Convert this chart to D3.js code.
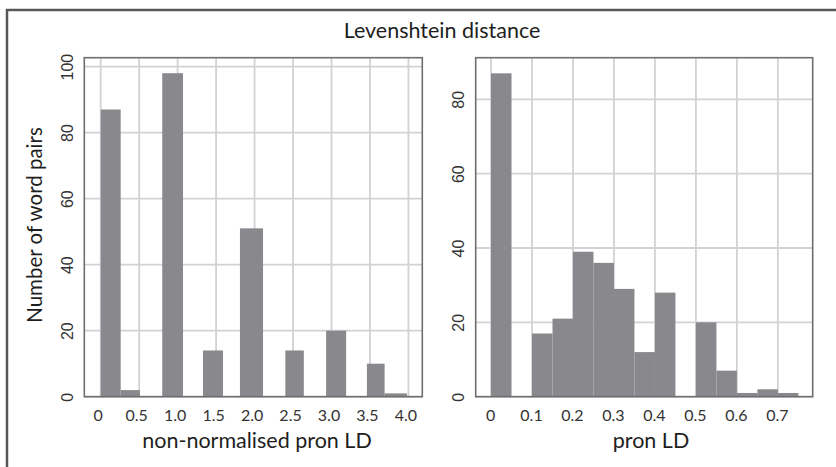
<!DOCTYPE html>
<html>
<head>
<meta charset="utf-8">
<script src="https://cdn.jsdelivr.net/npm/d3@7"></script>
<style>
  body { margin: 0; background: #fff; }
  svg { display: block; }
</style>
</head>
<body>
<svg id="chart" width="836" height="467"></svg>
<script>
// left panel: bins (start, end in LD units) and counts
let leftStart = [0, 0.26, 0.80, 1.33, 1.81, 2.40, 2.93, 3.46, 3.69];
let leftEnd = [0.26, 0.51, 1.07, 1.59, 2.11, 2.64, 3.19, 3.69, 3.98];
let leftCount = [87, 2, 98, 14, 51, 14, 20, 10, 1];
let leftXTicks = [0, 0.5, 1.0, 1.5, 2.0, 2.5, 3.0, 3.5, 4.0];
let leftYTicks = [0, 20, 40, 60, 80, 100];

// right panel: bins of 0.05
let rightStart = [0, 0.05, 0.10, 0.15, 0.20, 0.25, 0.30, 0.35, 0.40, 0.45, 0.50, 0.55, 0.60, 0.65, 0.70];
let rightEnd = [0.05, 0.10, 0.15, 0.20, 0.25, 0.30, 0.35, 0.40, 0.45, 0.50, 0.55, 0.60, 0.65, 0.70, 0.75];
let rightCount = [87, 0, 17, 21, 39, 36, 29, 12, 28, 0, 20, 7, 1, 2, 1];
let rightXTicks = [0, 0.1, 0.2, 0.3, 0.4, 0.5, 0.6, 0.7];
let rightYTicks = [0, 20, 40, 60, 80];

let title = 'Levenshtein distance';
let yTitle = 'Number of word pairs';
let leftXTitle = 'non-normalised pron LD';
let rightXTitle = 'pron LD';

let barColor = '#89898d';
let gridColor = '#d2d2d4';
let borderColor = '#6e6e70';
let calibri = 'Lato, "Open Sans", sans-serif';

const svg = d3.select('#chart');

// outer frame (right and bottom edges run off the picture)
svg.append('rect')
  .attr('x', 7)
  .attr('y', 10)
  .attr('width', 860)
  .attr('height', 480)
  .attr('fill', 'none')
  .attr('stroke', '#585858')
  .attr('stroke-width', 2.5);

svg.append('text')
  .attr('x', 442)
  .attr('y', 38)
  .attr('text-anchor', 'middle')
  .style('font-family', calibri)
  .style('font-size', '21.5px')
  .style('fill', '#1e1e1e')
  .text(title);

svg.append('text')
  .attr('transform', 'translate(42,225) rotate(-90)')
  .attr('text-anchor', 'middle')
  .style('font-family', calibri)
  .style('font-size', '20.5px')
  .style('fill', '#1e1e1e')
  .text(yTitle);

const drawPanel = (p) => {
  let g = svg.append('g');
  let x = d3.scaleLinear().domain(p.xDomain).range([p.left, p.right]);
  let y = d3.scaleLinear().domain(p.yDomain).range([p.bottom, p.top]);

  // grid
  g.selectAll('.vgrid')
    .data(p.xTicks)
    .enter()
    .append('line')
    .attr('x1', d => x(d))
    .attr('x2', d => x(d))
    .attr('y1', p.top)
    .attr('y2', p.bottom)
    .attr('stroke', gridColor)
    .attr('stroke-width', 1.8);
  g.selectAll('.hgrid')
    .data(p.yTicks)
    .enter()
    .append('line')
    .attr('x1', p.left)
    .attr('x2', p.right)
    .attr('y1', d => y(d))
    .attr('y2', d => y(d))
    .attr('stroke', gridColor)
    .attr('stroke-width', 1.8);

  // bars
  g.selectAll('.bar')
    .data(p.counts)
    .enter()
    .append('rect')
    .attr('x', (d, i) => x(p.starts[i]))
    .attr('width', (d, i) => x(p.ends[i]) - x(p.starts[i]))
    .attr('y', d => y(d))
    .attr('height', d => y(0) - y(d))
    .attr('fill', barColor);

  // box
  g.append('rect')
    .attr('x', p.left)
    .attr('y', p.top)
    .attr('width', p.right - p.left)
    .attr('height', p.bottom - p.top)
    .attr('fill', 'none')
    .attr('stroke', borderColor)
    .attr('stroke-width', 1.6);

  // x axis labels
  let xAxis = d3.axisBottom(x)
    .tickValues(p.xTicks)
    .tickSize(0)
    .tickPadding(13)
    .tickFormat(d => d === 0 ? '0' : d3.format(p.xFmt)(d));
  let xg = g.append('g')
    .attr('transform', 'translate(0,' + p.bottom + ')')
    .call(xAxis);
  xg.select('.domain').remove();
  xg.selectAll('text')
    .attr('dx', p.labelShift)
    .style('font-family', calibri)
    .style('font-size', '16px')
    .style('fill', '#333');

  // y axis labels, rotated like the original
  let yAxis = d3.axisLeft(y)
    .tickValues(p.yTicks)
    .tickSize(0);
  let yg = g.append('g')
    .attr('transform', 'translate(' + p.left + ',0)')
    .call(yAxis);
  yg.select('.domain').remove();
  yg.selectAll('text')
    .attr('x', 0)
    .attr('dy', 0)
    .attr('text-anchor', 'middle')
    .attr('transform', 'translate(-11.5,0) rotate(-90)')
    .style('font-family', '"Liberation Sans", Arial, sans-serif')
    .style('font-size', '16px')
    .style('fill', '#333');

  g.append('text')
    .attr('x', p.titleX)
    .attr('y', 448)
    .attr('text-anchor', 'middle')
    .style('font-family', calibri)
    .style('font-size', '21.5px')
    .style('fill', '#1e1e1e')
    .text(p.xTitle);
};

drawPanel({
  left: 84.3, right: 422.3, top: 57.7, bottom: 396.7,
  xDomain: [-0.213, 4.18], yDomain: [0, 102.7],
  xTicks: leftXTicks, yTicks: leftYTicks, xFmt: '.1f', labelShift: -3,
  starts: leftStart, ends: leftEnd, counts: leftCount,
  xTitle: leftXTitle, titleX: 257
});

drawPanel({
  left: 475.7, right: 812.7, top: 57.7, bottom: 396.7,
  xDomain: [-0.0374, 0.785], yDomain: [0, 91.2],
  xTicks: rightXTicks, yTicks: rightYTicks, xFmt: '.1f', labelShift: -1,
  starts: rightStart, ends: rightEnd, counts: rightCount,
  xTitle: rightXTitle, titleX: 651
});
</script>
</body>
</html>
